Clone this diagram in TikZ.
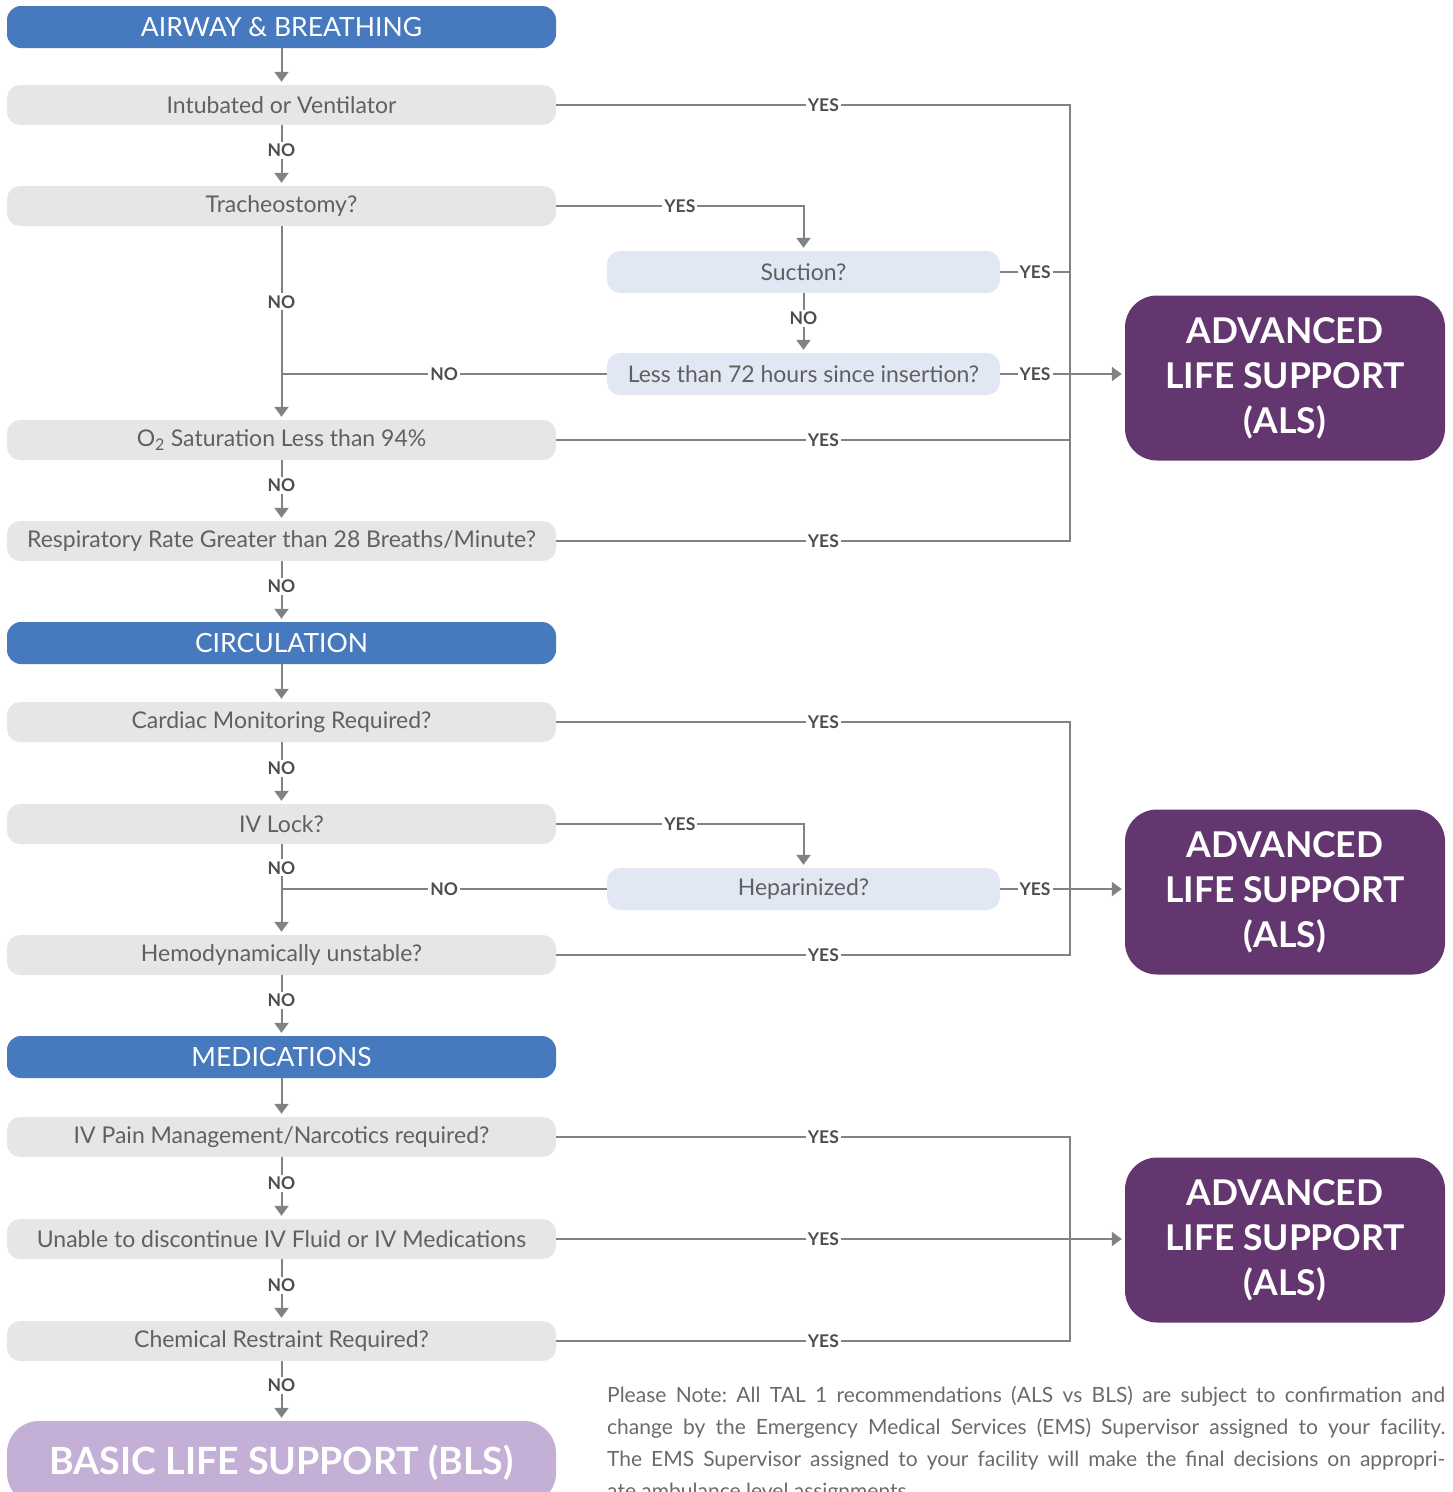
\documentclass[tikz,border=0pt]{standalone}
\usepackage{fontspec}
\setmainfont{Lato}
\usetikzlibrary{arrows.meta}
\definecolor{hdblue}{RGB}{70,121,189}
\definecolor{qgray}{RGB}{230,230,230}
\definecolor{qblue}{RGB}{226,232,243}
\definecolor{qtext}{RGB}{95,96,98}
\definecolor{lngray}{RGB}{128,130,133}
\definecolor{labtext}{RGB}{77,77,79}
\definecolor{alspurple}{RGB}{99,54,111}
\definecolor{blspurple}{RGB}{196,176,214}
\definecolor{notetext}{RGB}{105,106,108}
\frenchspacing
\begin{document}
\begin{tikzpicture}
[
 x=1pt, y=-1pt,
 inner sep=0pt,
 hd/.style={rectangle, rounded corners=14pt, fill=hdblue, text=white, minimum width=549pt, minimum height=42pt, font=\fontsize{26.5}{30}\selectfont},
 q/.style={rectangle, rounded corners=13pt, fill=qgray, text=qtext, minimum width=549pt, minimum height=40pt, font=\fontsize{23}{28}\selectfont},
 q2/.style={q, fill=qblue, minimum width=393pt, minimum height=42pt},
 als/.style={rectangle, rounded corners=32pt, fill=alspurple, text=white, minimum width=320pt, minimum height=165pt, align=center, font=\bfseries\fontsize{35.5}{45}\selectfont},
 bls/.style={rectangle, rounded corners=32pt, fill=blspurple, text=white, minimum width=549pt, minimum height=84pt, font=\bfseries\fontsize{37.5}{44}\selectfont},
 lab/.style={fill=white, inner sep=2pt, text=labtext, font=\bfseries\fontsize{17.5}{20}\selectfont},
 ln/.style={draw=lngray, line width=2pt},
 arr/.style={ln, -{Triangle[width=14pt,length=10pt]}, shorten >=3pt},
 ]
\useasboundingbox (0,0) rectangle (1452,1492);
%
% airway and breathing
\node [hd]  (AB)   at ( 281.5, 27)  {AIRWAY \& BREATHING};
\node [q]   (Q1)   at ( 281.5, 105) {Intubated or Ventilator};
\node [q]   (Q2)   at ( 281.5, 206) {Tracheostomy?};
\node [q2]  (S1)   at ( 803.5, 272) {Suction?};
\node [q2]  (S2)   at ( 803.5, 374) {Less than 72 hours since insertion?};
\node [q]   (Q3)   at ( 281.5, 440) {O\textsubscript{2} Saturation Less than 94\%};
\node [q]   (Q4)   at ( 281.5, 541) {Respiratory Rate Greater than 28 Breaths/Minute?};
\node [als] (ALS1) at ( 1285, 378)  {ADVANCED\\LIFE SUPPORT\\(ALS)};
\coordinate (A1) at (1070, 105);
%
\draw [arr]  (AB.south) -- (Q1.north) ;
\draw [arr]  (Q1.south) -- node[lab, pos=0.42] {NO} (Q2.north) ;
\draw [arr]  (Q2.south) -- node[lab, pos=0.39] {NO} (Q3.north) ;
\draw [arr]  (Q3.south) -- node[lab, pos=0.42] {NO} (Q4.north) ;
\draw [arr]  (Q2.east) -- node[lab] {YES} (Q2.east -| S1.north) -- (S1.north) ;
\draw [arr]  (S1.south) -- node[lab, pos=0.42] {NO} (S2.north) ;
\draw [ln]   (S2.west) -- node[lab] {NO} (S2.west -| Q2.south) ;
\draw [ln]   (Q1.east) -- node[lab, pos=0.52] {YES} (A1) |- node[lab, pos=0.74] {YES} (Q4.east) ;
\draw [ln]   (Q3.east) -- node[lab, pos=0.52] {YES} (Q3.east -| A1) ;
\draw [ln]   (S1.east) -- node[lab] {YES} (S1.east -| A1) ;
\draw [arr]  (S2.east) -- node[lab, pos=0.28] {YES} (S2.east -| ALS1.west) ;
%
% circulation
\node [hd]  (CI)   at ( 281.5, 643) {CIRCULATION};
\node [q]   (Q5)   at ( 281.5, 722) {Cardiac Monitoring Required?};
\node [q]   (Q6)   at ( 281.5, 824) {IV Lock?};
\node [q2]  (H1)   at ( 803.5, 889) {Heparinized?};
\node [q]   (Q7)   at ( 281.5, 955) {Hemodynamically unstable?};
\node [als] (ALS2) at ( 1285, 892)  {ADVANCED\\LIFE SUPPORT\\(ALS)};
\coordinate (B1) at (1070, 722);
%
\draw [arr]  (Q4.south) -- node[lab, pos=0.42] {NO} (CI.north) ;
\draw [arr]  (CI.south) -- (Q5.north) ;
\draw [arr]  (Q5.south) -- node[lab, pos=0.42] {NO} (Q6.north) ;
\draw [arr]  (Q6.south) -- node[lab, pos=0.26] {NO} (Q7.north) ;
\draw [arr]  (Q6.east) -- node[lab] {YES} (Q6.east -| H1.north) -- (H1.north) ;
\draw [ln]   (H1.west) -- node[lab] {NO} (H1.west -| Q6.south) ;
\draw [ln]   (Q5.east) -- node[lab, pos=0.52] {YES} (B1) |- node[lab, pos=0.74] {YES} (Q7.east) ;
\draw [arr]  (H1.east) -- node[lab, pos=0.28] {YES} (H1.east -| ALS2.west) ;
%
% medications
\node [hd]  (ME)   at ( 281.5, 1057) {MEDICATIONS};
\node [q]   (Q8)   at ( 281.5, 1137) {IV Pain Management/Narcotics required?};
\node [q]   (Q9)   at ( 281.5, 1239) {Unable to discontinue IV Fluid or IV Medications};
\node [q]   (Q10)  at ( 281.5, 1341) {Chemical Restraint Required?};
\node [als] (ALS3) at ( 1285, 1240) {ADVANCED\\LIFE SUPPORT\\(ALS)};
\node [bls] (BLS)  at ( 281.5, 1463) {BASIC LIFE SUPPORT (BLS)};
\coordinate (C1) at (1070, 1137);
%
\draw [arr]  (Q7.south) -- node[lab, pos=0.42] {NO} (ME.north) ;
\draw [arr]  (ME.south) -- (Q8.north) ;
\draw [arr]  (Q8.south) -- node[lab, pos=0.42] {NO} (Q9.north) ;
\draw [arr]  (Q9.south) -- node[lab, pos=0.42] {NO} (Q10.north) ;
\draw [arr]  (Q10.south) -- node[lab, pos=0.4] {NO} (BLS.north) ;
\draw [ln]   (Q8.east) -- node[lab, pos=0.52] {YES} (C1) |- node[lab, pos=0.74] {YES} (Q10.east) ;
\draw [arr]  (Q9.east) -- node[lab, pos=0.47] {YES} (Q9.east -| ALS3.west) ;
%
% note
\node [anchor=north west, text width=838pt, align=justify, text=notetext, font=\fontsize{21}{32}\selectfont] (NT) at (607, 1386)
 {\hyphenpenalty=10000 Please Note: All TAL 1 recommendations (ALS vs BLS) are subject to confirmation and\linebreak
 change by the Emergency Medical Services (EMS) Supervisor assigned to your facility.\linebreak
 The EMS Supervisor assigned to your facility will make the final decisions on appropri-\linebreak
 ate ambulance level assignments.};
%
\end{tikzpicture}
\end{document}
